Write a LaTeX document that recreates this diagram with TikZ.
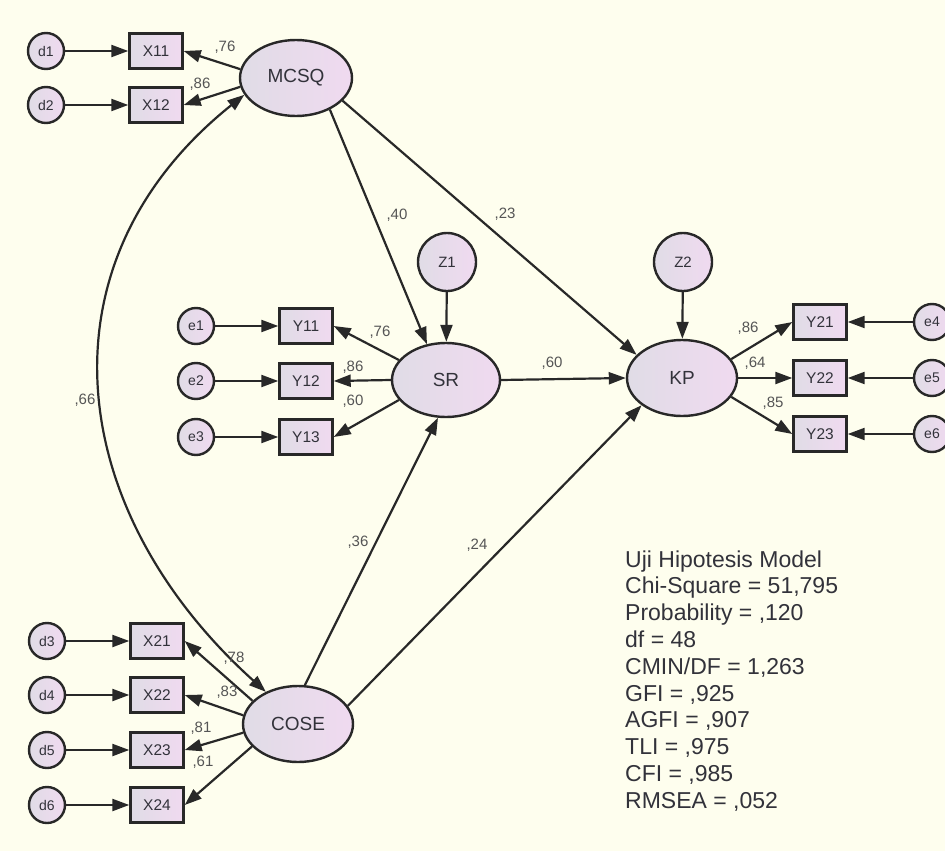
\documentclass[tikz,border=0pt]{standalone}
\usepackage{fontspec}
\setmainfont{Liberation Sans}
\usetikzlibrary{arrows.meta,shapes.geometric}
\definecolor{paper}{RGB}{254,254,238}
\definecolor{ink}{RGB}{40,40,40}
\definecolor{txt}{RGB}{50,50,58}
\definecolor{lab}{RGB}{85,85,85}
\definecolor{fillL}{RGB}{224,220,230}
\definecolor{fillR}{RGB}{240,218,240}

\tikzset{
  every node/.style={text=txt},
  latent/.style={ellipse, draw=ink, line width=2.4pt, left color=fillL, right color=fillR,
    minimum width=110pt, minimum height=76pt, inner sep=0pt, font=\fontsize{19}{22}\selectfont},
  resid/.style={circle, draw=ink, line width=2.4pt, left color=fillL, right color=fillR,
    minimum size=36pt, inner sep=0pt, font=\fontsize{14}{16}\selectfont},
  dist/.style={resid, minimum size=58pt, font=\fontsize{15}{17}\selectfont},
  obs/.style={rectangle, draw=ink, line width=2.4pt, left color=fillL, right color=fillR,
    minimum width=53pt, minimum height=35pt, inner sep=0pt, font=\fontsize{15.5}{18}\selectfont},
  arr/.style={draw=ink, line width=2.2pt, -{Triangle[length=17pt,width=12pt]}},
  covarr/.style={draw=ink, line width=2.2pt, {Triangle[length=17pt,width=12pt]}-{Triangle[length=17pt,width=12pt]}},
  coef/.style={text=lab, font=\fontsize{15}{18}\selectfont, inner sep=0pt},
  fitline/.style={anchor=base west, inner sep=0pt, font=\fontsize{23}{27}\selectfont},
}

\begin{document}
\begin{tikzpicture}[x=1pt,y=-1pt]
\fill[paper] (0,0) rectangle (945,851);
\useasboundingbox (0,0) rectangle (945,851);
\clip (0,0) rectangle (945,851);

% latent variables
\node[latent, minimum width=112pt] (MCSQ) at (296,78) {MCSQ};
\node[latent, minimum width=108pt, minimum height=74pt] (SR) at (446,380) {SR};
\node[latent] (KP) at (682,378) {KP};
\node[latent] (COSE) at (298,724) {COSE};

% disturbances
\node[dist] (Z1) at (447,262) {Z1};
\node[dist] (Z2) at (683,262) {Z2};

% MCSQ indicators
\node[obs] (X11) at (156,51) {X11};
\node[obs] (X12) at (156,105) {X12};
\node[resid] (d1) at (46,51) {d1};
\node[resid] (d2) at (46,105) {d2};

% SR indicators
\node[obs] (Y11) at (306,326) {Y11};
\node[obs] (Y12) at (306,381) {Y12};
\node[obs] (Y13) at (306,437) {Y13};
\node[resid] (e1) at (196,326) {e1};
\node[resid] (e2) at (196,381) {e2};
\node[resid] (e3) at (196,437) {e3};

% KP indicators
\node[obs] (Y21) at (820,322) {Y21};
\node[obs] (Y22) at (820,378) {Y22};
\node[obs] (Y23) at (820,434) {Y23};
\node[resid] (e4) at (932,322) {e4};
\node[resid] (e5) at (932,378) {e5};
\node[resid] (e6) at (932,434) {e6};

% COSE indicators
\node[obs] (X21) at (157,641) {X21};
\node[obs] (X22) at (157,695) {X22};
\node[obs] (X23) at (157,750) {X23};
\node[obs] (X24) at (157,805) {X24};
\node[resid] (d3) at (47,641) {d3};
\node[resid] (d4) at (47,695) {d4};
\node[resid] (d5) at (47,750) {d5};
\node[resid] (d6) at (47,805) {d6};

% error terms
\draw[arr] (d1) -- (X11);
\draw[arr] (d2) -- (X12);
\draw[arr] (e1) -- (Y11);
\draw[arr] (e2) -- (Y12);
\draw[arr] (e3) -- (Y13);
\draw[arr] (e4) -- (Y21);
\draw[arr] (e5) -- (Y22);
\draw[arr] (e6) -- (Y23);
\draw[arr] (d3) -- (X21);
\draw[arr] (d4) -- (X22);
\draw[arr] (d5) -- (X23);
\draw[arr] (d6) -- (X24);

% loadings
\draw[arr] (MCSQ.171) -- (X11.east);
\draw[arr] (MCSQ.189) -- (X12.east);
\draw[arr] (SR.157) -- (Y11.east);
\draw[arr] (SR.west) -- (Y12.east);
\draw[arr] (SR.203) -- (Y13.east);
\draw[arr] (KP.21) -- (Y21.west);
\draw[arr] (KP.east) -- (Y22.west);
\draw[arr] (KP.-21) -- (Y23.west);
\draw[arr] (COSE.153) -- (X21.east);
\draw[arr] (COSE.171) -- (X22.east);
\draw[arr] (COSE.189) -- (X23.east);
\draw[arr] (COSE.206) -- (X24.east);

% structural paths
\draw[arr] (Z1) -- (SR);
\draw[arr] (Z2) -- (KP);
\draw[arr] (MCSQ.-43) -- (SR.118);
\draw[arr] (MCSQ.-26) -- (KP.153);
\draw[arr] (SR.east) -- (KP.west);
\draw[arr] (COSE.80) -- (SR.-102);
\draw[arr] (COSE.20) -- (KP.-146);

% correlation of the exogenous constructs
\draw[covarr] (COSE.135) .. controls (64,510) and (35,262) .. (MCSQ.198);

% coefficients
\node[coef] (cX11) at (225,47) {,76};
\node[coef] (cX12) at (200,84) {,86};
\node[coef] (cMS) at (397,215) {,40};
\node[coef] (cMK) at (505,214) {,23};
\node[coef] (cMC) at (85,400) {,66};
\node[coef] (cY11) at (380,332) {,76};
\node[coef] (cY12) at (353,367) {,86};
\node[coef] (cY13) at (353,401) {,60};
\node[coef] (cSK) at (552,363) {,60};
\node[coef] (cY21) at (748,328) {,86};
\node[coef] (cY22) at (755,363) {,64};
\node[coef] (cY23) at (773,403) {,85};
\node[coef] (cCS) at (358,542) {,36};
\node[coef] (cCK) at (477,545) {,24};
\node[coef] (cX21) at (234,658) {,78};
\node[coef] (cX22) at (227,692) {,83};
\node[coef] (cX23) at (201,728) {,81};
\node[coef] (cX24) at (203,762) {,61};

% fit statistics
\foreach \t [count=\i from 0] in {{Uji Hipotesis Model},{Chi-Square = 51,795},{Probability = ,120},
  {df = 48},{CMIN/DF = 1,263},{GFI = ,925},{AGFI = ,907},{TLI = ,975},{CFI = ,985},{RMSEA = ,052}}
  \node[fitline] (fit\i) at (625,{567+26.8*\i}) {\t};
\end{tikzpicture}
\end{document}
